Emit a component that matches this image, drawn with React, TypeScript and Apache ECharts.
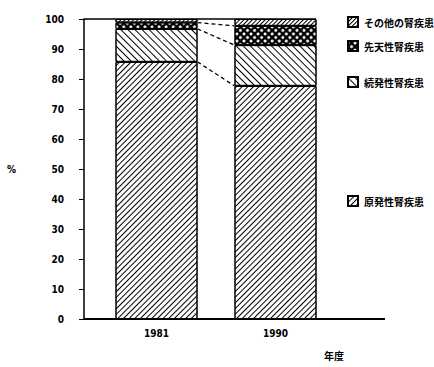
import React, { useEffect, useRef } from "react";
import * as echarts from "echarts";

const years = ["1981", "1990"];
const primary = [85.7, 77.7];
const secondary = [11.0, 13.6];
const congenital = [2.1, 6.4];
const other = [1.2, 2.3];
const names = ["原発性腎疾患", "続発性腎疾患", "先天性腎疾患", "その他の腎疾患"];
const legendTops = [190, 71, 35, 11];

const numFont = "'Liberation Sans Narrow', 'DejaVu Sans Condensed', 'Liberation Sans', sans-serif";
const jpFont = "'Noto Sans CJK JP', sans-serif";

export default function App() {
  const ref = useRef<HTMLDivElement>(null);
  useEffect(() => {
    if (!ref.current) return;
    document.body.style.margin = "0";
    const chart = echarts.init(ref.current, null, { renderer: "svg" });
    const layers = [primary, secondary, congenital, other];
    const decals: any[] = [
      { symbol: "rect", symbolSize: 1, dashArrayX: [1, 0], dashArrayY: [1, 2.6], rotation: -Math.PI / 4, color: "#000" },
      { symbol: "rect", symbolSize: 1, dashArrayX: [1, 0], dashArrayY: [1, 3.2], rotation: Math.PI / 4, color: "#000" },
      { symbol: "circle", symbolSize: 1, dashArrayX: [2.5, 1.2], dashArrayY: [2.5, 1.2], rotation: Math.PI / 4, color: "#fff" },
      { symbol: "rect", symbolSize: 1, dashArrayX: [1, 0], dashArrayY: [0.9, 1.6], rotation: -Math.PI / 4, color: "#000" },
    ];
    const fills = ["#fff", "#fff", "#000", "#fff"];
    const cum = years.map((_, i) => {
      let s = 0;
      return layers.slice(0, 3).map((l) => (s += l[i]));
    });
    const connectors = [0, 1, 2].map((k) => [0, cum[0][k], cum[1][k]]);

    const barSeries = layers.map((data, i) => ({
      name: names[i],
      type: "bar",
      stack: "total",
      data,
      barWidth: 82,
      itemStyle: { color: fills[i], borderColor: "#000", borderWidth: 1, decal: decals[i] },
      emphasis: { disabled: true },
    }));

    chart.setOption({
      animation: false,
      grid: { left: 97, right: 99, top: 19, bottom: 48 },
      legend: names.map((n, i) => ({
        data: [n],
        icon: "rect",
        left: 342,
        top: legendTops[i],
        itemWidth: 10,
        itemHeight: 10,
        itemGap: 6,
        selectedMode: false,
        textStyle: { fontSize: 10, fontWeight: "bold", color: "#000", fontFamily: jpFont, padding: [0, 0, 0, 1] },
      })),
      xAxis: {
        type: "category",
        data: years,
        axisLine: { show: false },
        axisTick: { show: false },
        axisLabel: { color: "#000", fontSize: 10, fontWeight: "bold", fontFamily: numFont, margin: 9 },
      },
      yAxis: {
        type: "value",
        min: 0,
        max: 100,
        interval: 10,
        offset: 13,
        name: "%",
        nameLocation: "middle",
        nameGap: 68,
        nameRotate: 0,
        nameTextStyle: { color: "#000", fontSize: 10, fontWeight: "bold", fontFamily: numFont },
        axisLine: { show: true, lineStyle: { color: "#000", width: 1.5 } },
        axisTick: { show: true, length: 5, lineStyle: { color: "#000", width: 1 } },
        splitLine: { show: false },
        axisLabel: { color: "#000", fontSize: 10, fontWeight: "bold", fontFamily: numFont, margin: 20 },
      },
      graphic: [
        { type: "line", shape: { x1: 84, y1: 319, x2: 385, y2: 319 }, style: { stroke: "#000", lineWidth: 2 }, z: 10 },
        { type: "line", shape: { x1: 84, y1: 19, x2: 316, y2: 19 }, style: { stroke: "#000", lineWidth: 1.5 }, z: 10 },
        { type: "text", left: 324, top: 350, style: { text: "年度", fontSize: 10, fontWeight: "bold", fill: "#000", fontFamily: jpFont } },
      ],
      series: [
        ...barSeries,
        {
          type: "custom",
          data: connectors,
          encode: { x: 0, y: 1 },
          silent: true,
          z: 5,
          renderItem: (_params: any, api: any) => {
            const p1 = api.coord([0, api.value(1)]);
            const p2 = api.coord([1, api.value(2)]);
            return {
              type: "line",
              shape: { x1: p1[0] + 41, y1: p1[1], x2: p2[0] - 41, y2: p2[1] },
              style: { stroke: "#000", lineWidth: 1.3, lineDash: [4, 3] },
            };
          },
        },
      ],
    });
    return () => chart.dispose();
  }, []);
  return <div ref={ref} style={{ width: 434, height: 367 }} />;
}
